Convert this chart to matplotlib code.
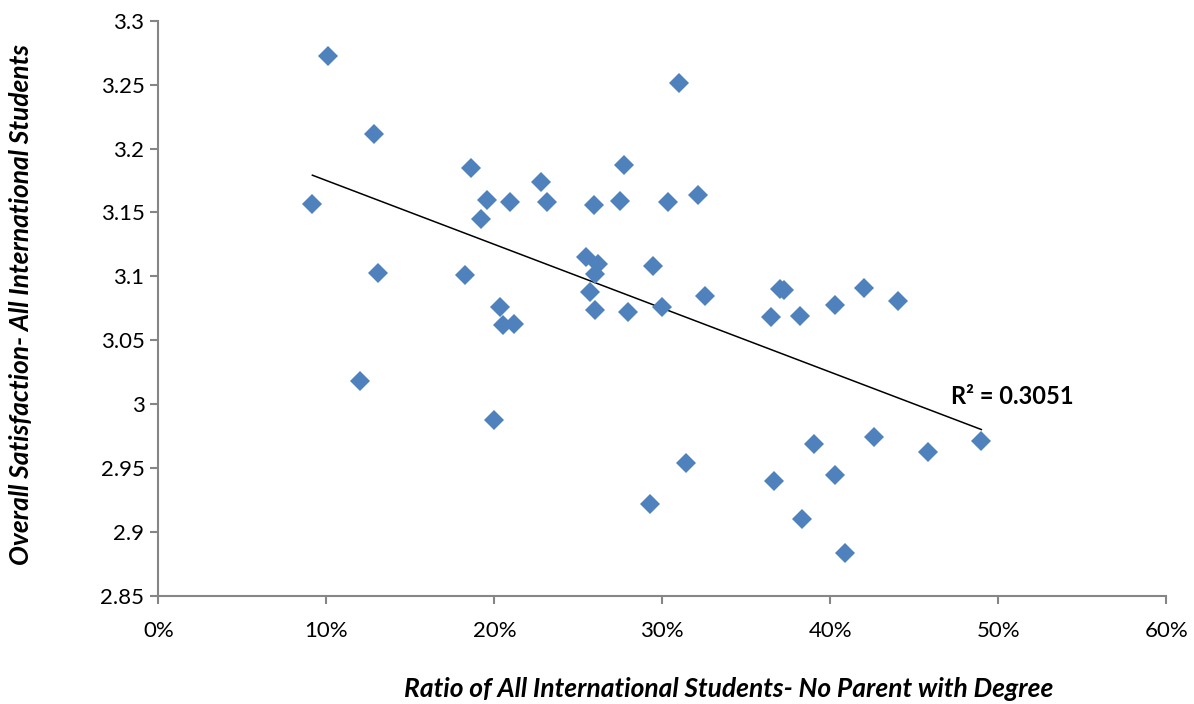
import numpy as np
import matplotlib
matplotlib.use("Agg")
import matplotlib.pyplot as plt
from matplotlib.ticker import FuncFormatter, MultipleLocator

# -------- data ----------------------------------------------------------
ratio_no_parent_degree = [
    0.0917, 0.1010, 0.1284, 0.1306, 0.1200, 0.1827, 0.1860, 0.1919, 0.1955,
    0.1998, 0.2036, 0.2052, 0.2095, 0.2117, 0.2278, 0.2312, 0.2548, 0.2568,
    0.2592, 0.2600, 0.2600, 0.2619, 0.2748, 0.2772, 0.2798, 0.2928, 0.2945,
    0.3000, 0.3036, 0.3098, 0.3139, 0.3210, 0.3252, 0.3645, 0.3663, 0.3700,
    0.3724, 0.3820, 0.3832, 0.3905, 0.4026, 0.4028, 0.4090, 0.4203, 0.4260,
    0.4400, 0.4583, 0.4899,
]
overall_satisfaction = [
    3.157, 3.272, 3.211, 3.103, 3.018, 3.101, 3.185, 3.145, 3.160,
    2.988, 3.076, 3.062, 3.158, 3.063, 3.174, 3.158, 3.115, 3.088,
    3.156, 3.102, 3.074, 3.110, 3.159, 3.187, 3.072, 2.922, 3.108,
    3.076, 3.158, 3.251, 2.954, 3.164, 3.085, 3.068, 2.940, 3.090,
    3.089, 3.069, 2.910, 2.969, 3.078, 2.945, 2.884, 3.091, 2.974,
    3.081, 2.963, 2.971,
]
r2_label = "R\u00b2 = 0.3051"

x_label = "Ratio of All International Students- No Parent with Degree"
y_label = "Overall Satisfaction- All International Students"

# -------- figure ---------------------------------------------------------
plt.rcParams["font.family"] = ["Lato", "DejaVu Sans"]

fig = plt.figure(figsize=(11.94, 7.04), dpi=100)
ax = fig.add_axes([0.1326, 0.1534, 0.8442, 0.8172])

x = np.array(ratio_no_parent_degree)
y = np.array(overall_satisfaction)

ax.plot(x, y, ls="none", marker="D", ms=10, color="#4F81BD",
        markeredgewidth=0, zorder=3)

# linear trend line across the data range
slope, intercept = np.polyfit(x, y, 1)
xs = np.array([x.min(), x.max()])
ax.plot(xs, slope * xs + intercept, color="black", lw=1.1, zorder=2)
ax.text(0.472, 3.006, r2_label, fontsize=17, fontweight="bold",
        ha="left", va="center")

ax.set_xlim(0, 0.6)
ax.set_ylim(2.85, 3.3)
ax.xaxis.set_major_locator(MultipleLocator(0.1))
ax.yaxis.set_major_locator(MultipleLocator(0.05))
ax.xaxis.set_major_formatter(FuncFormatter(lambda v, _p: f"{v*100:.0f}%"))
ax.yaxis.set_major_formatter(FuncFormatter(lambda v, _p: f"{v:.2f}".rstrip("0").rstrip(".")))

for side in ("top", "right"):
    ax.spines[side].set_visible(False)
for side in ("left", "bottom"):
    ax.spines[side].set_color("#868686")
    ax.spines[side].set_linewidth(1.5)
ax.tick_params(axis="both", direction="out", length=6, width=1.5,
               color="#868686", labelsize=16, labelcolor="black")
ax.tick_params(axis="x", pad=12)
ax.tick_params(axis="y", pad=4)

fig.text(0.61, 0.022, x_label, fontsize=19, fontweight="bold",
         fontstyle="italic", ha="center", va="center")
fig.text(0.0175, 0.568, y_label, fontsize=19, fontweight="bold",
         fontstyle="italic", ha="center", va="center", rotation=90)

fig.savefig("out.png", dpi=100)
